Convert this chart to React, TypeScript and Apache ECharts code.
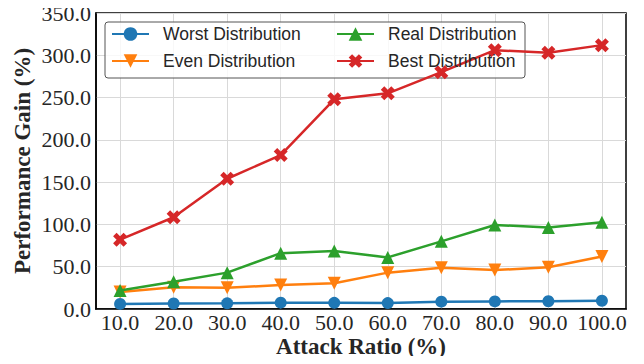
import React, { useEffect, useRef } from "react";
import * as echarts from "echarts";

const attackRatios = [10, 20, 30, 40, 50, 60, 70, 80, 90, 100];
const worst = [6, 6.5, 6.7, 7.5, 7.3, 7, 8.7, 9, 9.2, 9.8];
const even = [20, 25.6, 25, 28.4, 30.5, 43, 48.9, 46, 49.3, 62];
const real = [22, 32.3, 43, 66, 68.6, 61, 80, 99.3, 96.5, 102.5];
const best = [82, 108.5, 154, 182, 248, 255, 280, 306, 303, 312];
const yTicks = [0, 50, 100, 150, 200, 250, 300, 350];

const seriesNames = ["Worst Distribution", "Even Distribution", "Real Distribution", "Best Distribution"];
const colors = ["#1f77b4", "#ff7f0e", "#2ca02c", "#d62728"];

const SERIF = "'Liberation Serif', 'Times New Roman', 'DejaVu Serif', serif";
const SANS = "'Liberation Sans', Arial, 'DejaVu Sans', sans-serif";
const X_PATH = "path://M0,2.5 L2.5,0 L5,2.5 L7.5,0 L10,2.5 L7.5,5 L10,7.5 L7.5,10 L5,7.5 L2.5,10 L0,7.5 L2.5,5 Z";

export default function App() {
  const ref = useRef<HTMLDivElement>(null);
  useEffect(() => {
    if (!ref.current) return;
    const chart = echarts.init(ref.current, undefined, { renderer: "svg" });
    const pairs = (arr: number[]) => attackRatios.map((x, i) => [x, arr[i]]);
    const datasets = [worst, even, real, best];
    const symbols: any[] = ["circle", "triangle", "triangle", X_PATH];
    const rotates = [0, 180, 0, 0];
    const sizes = [12, 13, 13, 14];
    const legendBase = {
      orient: "vertical",
      top: 25,
      padding: 0,
      itemWidth: 37,
      itemHeight: 17,
      itemGap: 9,
      textStyle: { fontFamily: SANS, fontSize: 17.5, color: "#262626", padding: [0, 0, 0, 9] },
      z: 10,
    };
    chart.setOption({
      animation: false,
      backgroundColor: "#fff",
      grid: {
        left: 96,
        right: 18,
        top: 13,
        bottom: 55,
        containLabel: false,
        outerBoundsMode: "none",
        show: true,
        borderColor: "#000",
        borderWidth: 1.5,
      },
      xAxis: {
        type: "value",
        min: 5.5,
        max: 104.5,
        name: "Attack Ratio (%)",
        nameLocation: "middle",
        nameGap: 26,
        nameMoveOverlap: false,
        nameTextStyle: { fontFamily: SERIF, fontWeight: "bold", fontSize: 23, lineHeight: 22, color: "#262626" },
        axisLine: { show: true, lineStyle: { color: "#000", width: 1.5 } },
        axisTick: { show: false, customValues: attackRatios },
        axisLabel: {
          customValues: attackRatios,
          formatter: (v: number) => v.toFixed(1),
          fontFamily: SERIF,
          fontSize: 22,
          lineHeight: 20,
          color: "#262626",
          margin: 3,
        },
        splitLine: { show: true, lineStyle: { color: "#d9d9d9", width: 1 } },
      },
      yAxis: {
        type: "value",
        min: yTicks[0],
        max: yTicks[yTicks.length - 1],
        interval: 50,
        name: "Performance Gain (%)",
        nameLocation: "middle",
        nameGap: 62,
        nameMoveOverlap: false,
        nameTextStyle: { fontFamily: SERIF, fontWeight: "bold", fontSize: 23, color: "#262626" },
        axisLine: { show: true, lineStyle: { color: "#000", width: 1.5 } },
        axisTick: { show: false },
        axisLabel: {
          formatter: (v: number) => v.toFixed(1),
          fontFamily: SERIF,
          fontSize: 22,
          color: "#262626",
          margin: 5,
        },
        splitLine: { show: true, lineStyle: { color: "#d9d9d9", width: 1 } },
      },
      legend: [
        { ...legendBase, data: [seriesNames[0], seriesNames[1]], left: 111 },
        { ...legendBase, data: [seriesNames[2], seriesNames[3]], left: 336 },
      ],
      graphic: [
        {
          type: "rect",
          z: 5,
          shape: { x: 105, y: 22, width: 420, height: 56, r: 3 },
          style: { fill: "rgba(255,255,255,0.8)", stroke: "#555", lineWidth: 1 },
        },
      ],
      series: datasets.map((d, i) => ({
        name: seriesNames[i],
        type: "line",
        data: pairs(d),
        symbol: symbols[i],
        symbolRotate: rotates[i],
        symbolSize: sizes[i],
        showAllSymbol: true,
        z: 2 + i,
        lineStyle: { color: colors[i], width: 2.5 },
        itemStyle: { color: colors[i], borderWidth: 0 },
      })),
    });
    return () => chart.dispose();
  }, []);
  return <div ref={ref} style={{ width: 644, height: 364, margin: -8 }} />;
}
